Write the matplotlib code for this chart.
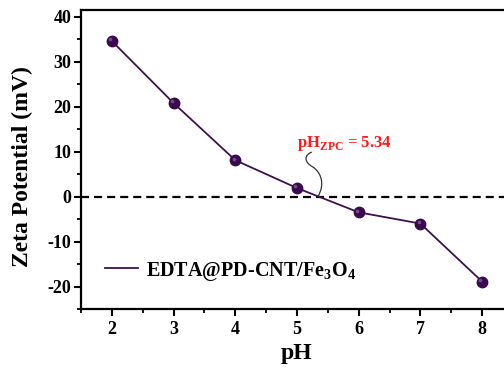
import matplotlib
matplotlib.use("Agg")
import matplotlib.pyplot as plt
from matplotlib.path import Path
from matplotlib.patches import PathPatch
from matplotlib.ticker import MultipleLocator
from matplotlib.transforms import ScaledTranslation

plt.rcParams['font.family'] = ['Liberation Serif', 'DejaVu Serif']
plt.rcParams['font.weight'] = 'bold'
plt.rcParams['mathtext.fontset'] = 'custom'
plt.rcParams['mathtext.rm'] = 'Liberation Serif:bold'
plt.rcParams['mathtext.bf'] = 'Liberation Serif:bold'
plt.rcParams['lines.scale_dashes'] = False
plt.rcParams['axes.unicode_minus'] = False

# Zeta potential measurements
ph = [2, 3, 4, 5, 6, 7, 8]
zeta = [34.6, 20.8, 8.1, 1.9, -3.5, -6.0, -18.9]
ph_zpc = 5.34
series_label = "EDTA@PD-CNT/Fe$_3$O$_4$"
xticks = [2, 3, 4, 5, 6, 7, 8]
yticks = [-20, -10, 0, 10, 20, 30, 40]

line_col = '#3d1150'
marker_col = '#3a0a4e'

fig = plt.figure(figsize=(5.04, 3.73), dpi=100)
ax = fig.add_axes([0.1607, 0.1716, 0.857, 0.8016])

ax.axhline(0, color='black', lw=1.6, dashes=(5.8, 3.6), zorder=1)

ax.plot(ph, zeta, color=line_col, lw=1.3, zorder=2, label=series_label)
ax.plot(ph, zeta, ls='none', marker='o', ms=7.5, mfc=marker_col,
        mec=marker_col, zorder=3)
# small highlight to give the markers a shaded look
hl = ax.transData + ScaledTranslation(-1.2 / 72, 1.2 / 72, fig.dpi_scale_trans)
ax.plot(ph, zeta, ls='none', marker='o', ms=2.6, mfc='#8a5a9e', mec='none',
        alpha=0.8, transform=hl, zorder=4)

ax.set_xlim(1.5, 8.5)
ax.set_ylim(-25, 41.5)
ax.set_xticks(xticks)
ax.set_yticks(yticks)
ax.xaxis.set_minor_locator(MultipleLocator(0.5))
ax.yaxis.set_minor_locator(MultipleLocator(5))

for side in ('left', 'bottom', 'top'):
    ax.spines[side].set_linewidth(1.6)
ax.spines['right'].set_visible(False)
ax.tick_params(which='major', direction='out', length=5, width=1.5,
               labelsize=13)
ax.tick_params(axis='x', which='major', pad=4)
ax.tick_params(axis='y', which='major', pad=2)
ax.tick_params(which='minor', direction='out', length=3, width=1.3)
ax.tick_params(top=False, right=False, which='both')
for lab in ax.get_xticklabels() + ax.get_yticklabels():
    lab.set_fontweight('bold')

ax.set_xlabel('pH', fontsize=17, fontweight='bold', labelpad=3)
ax.set_ylabel('Zeta Potential (mV)', fontsize=17, fontweight='bold')
ax.yaxis.set_label_coords(-0.11, 0.478)

leg = ax.legend(loc='center left', frameon=False, fontsize=14.5,
                handlelength=1.64, handletextpad=0.4, borderpad=0,
                borderaxespad=0, bbox_to_anchor=(0.0556, 0.127))
for t in leg.get_texts():
    t.set_fontweight('bold')

# pH_ZPC annotation with a curly leader line down to the zero crossing
ax.text(5.0, 11.0, "pH$_\\mathregular{ZPC}$ = 5.34", color='#ff1a1a',
        fontsize=12, fontweight='bold', ha='left', va='baseline')
verts = [(5.241, 9.9), (5.112, 9.24), (5.112, 7.69), (5.258, 6.58),
         (5.403, 5.24), (5.452, 2.58), (ph_zpc, 0.0)]
codes = [Path.MOVETO] + [Path.CURVE4] * 6
ax.add_patch(PathPatch(Path(verts, codes), fill=False, ec='#333333', lw=0.9,
                       zorder=5))

fig.savefig('out.png', dpi=100)
